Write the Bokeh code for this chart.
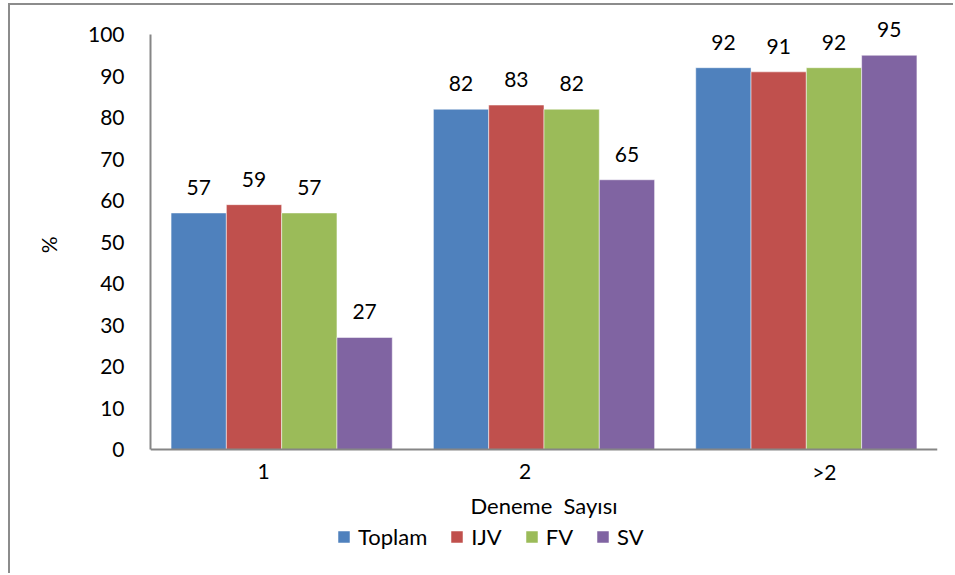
from bokeh.plotting import figure
from bokeh.models import (FixedTicker, Legend, LegendItem, LabelSet, Span,
                          ColumnDataSource, Range1d)
from bokeh.core.properties import value
from bokeh.embed import file_html
from bokeh.resources import INLINE

# ---- data ----
categories = ["1", "2", ">2"]
series_names = ["Toplam", "IJV", "FV", "SV"]
toplam = [57, 82, 92]
ijv = [59, 83, 91]
fv = [57, 82, 92]
sv = [27, 65, 95]
y_ticks = [0, 10, 20, 30, 40, 50, 60, 70, 80, 90, 100]
x_title = "Deneme  Sayısı"
y_title = "%"

# ---- style / layout ----
colors = ["#4F81BD", "#C0504D", "#9BBB59", "#8064A2"]
FONT = "Lato"
FS = "21px"
FS_BIG = "22px"
AXIS_COLOR = "#868686"
W, H = 945, 570
BAR_W = 0.2108
PX_PER_UNIT = 787 / 3.0
LABEL_SHIFT_PX = [-18, -19, 18]   # category label shifts as in the reference
NBSP = "\u00a0"
Y_TITLE_LIFT = 17                 # non-breaking spaces that lift the y title to the axis middle

p = figure(width=W, height=H, output_backend="svg", toolbar_location=None,
           x_range=Range1d(-0.5, 2.5), y_range=Range1d(-30.36, 106.99),
           x_axis_location=None,
           min_border_left=140, min_border_right=18, min_border_top=0,
           min_border_bottom=0)
p.styles = {"border-left": "2px solid #8c8c8c", "border-top": "2px solid #8c8c8c",
            "margin-left": "8px", "margin-top": "3px"}
p.outline_line_color = None
p.xgrid.visible = False
p.ygrid.visible = False
p.background_fill_color = "white"
p.border_fill_color = "white"

all_series = [toplam, ijv, fv, sv]
renderers = []
for i, vals in enumerate(all_series):
    xs = [g + (i - 1.5) * BAR_W for g in range(len(categories))]
    src = ColumnDataSource(dict(x=xs, top=vals, txt=[str(v) for v in vals]))
    r = p.vbar(x="x", top="top", width=BAR_W, bottom=0, source=src,
               fill_color=colors[i], line_color="white", line_alpha=0.5, line_width=1)
    renderers.append(r)
    lbl = LabelSet(x="x", y="top", text="txt", source=src, y_offset=18,
                   text_align="center", text_baseline="alphabetic",
                   text_font=value(FONT), text_font_size=value(FS), text_color="black")
    p.add_layout(lbl)

# ---- x axis (drawn at y = 0) ----
p.add_layout(Span(location=0, dimension="width", line_color=AXIS_COLOR, line_width=2))
ticks = [g + LABEL_SHIFT_PX[g] / PX_PER_UNIT for g in range(len(categories))]
p.text(x=ticks, y=[0] * len(ticks), text=categories, y_offset=22,
       text_align="center", text_baseline="middle",
       text_font=value(FONT), text_font_size=value(FS), text_color="black")
p.text(x=[(len(categories) - 1) / 2], y=[0], text=[x_title.replace("  ", NBSP + " ")],
       y_offset=56, text_align="center", text_baseline="middle",
       text_font=value(FONT), text_font_size=value(FS_BIG), text_color="black")

# ---- y axis ----
ax = p.yaxis[0]
ax.ticker = FixedTicker(ticks=y_ticks)
ax.bounds = (0, 100)
ax.axis_label = NBSP * Y_TITLE_LIFT + y_title
ax.axis_line_color = AXIS_COLOR
ax.axis_line_width = 2
ax.major_tick_line_color = None
ax.minor_tick_line_color = None
ax.major_tick_out = 0
ax.major_tick_in = 0
ax.major_label_text_font = FONT
ax.major_label_text_font_size = FS
ax.major_label_text_color = "black"
ax.axis_label_text_font = FONT
ax.axis_label_text_font_size = FS
ax.axis_label_text_font_style = "normal"
ax.axis_label_text_color = "black"
ax.major_label_standoff = 26
ax.axis_label_standoff = 24

# ---- legend (below the axis, inside the frame) ----
legend = Legend(items=[LegendItem(label=n, renderers=[r]) for n, r in zip(series_names, renderers)],
                orientation="horizontal", location=(186, 25),
                label_text_font=FONT, label_text_font_size=FS_BIG, label_text_color="black",
                glyph_width=15, glyph_height=15, label_standoff=7, spacing=22,
                padding=0, margin=0, border_line_color=None, background_fill_alpha=0)
p.add_layout(legend)

open("out.html", "w").write(file_html(p, INLINE))
